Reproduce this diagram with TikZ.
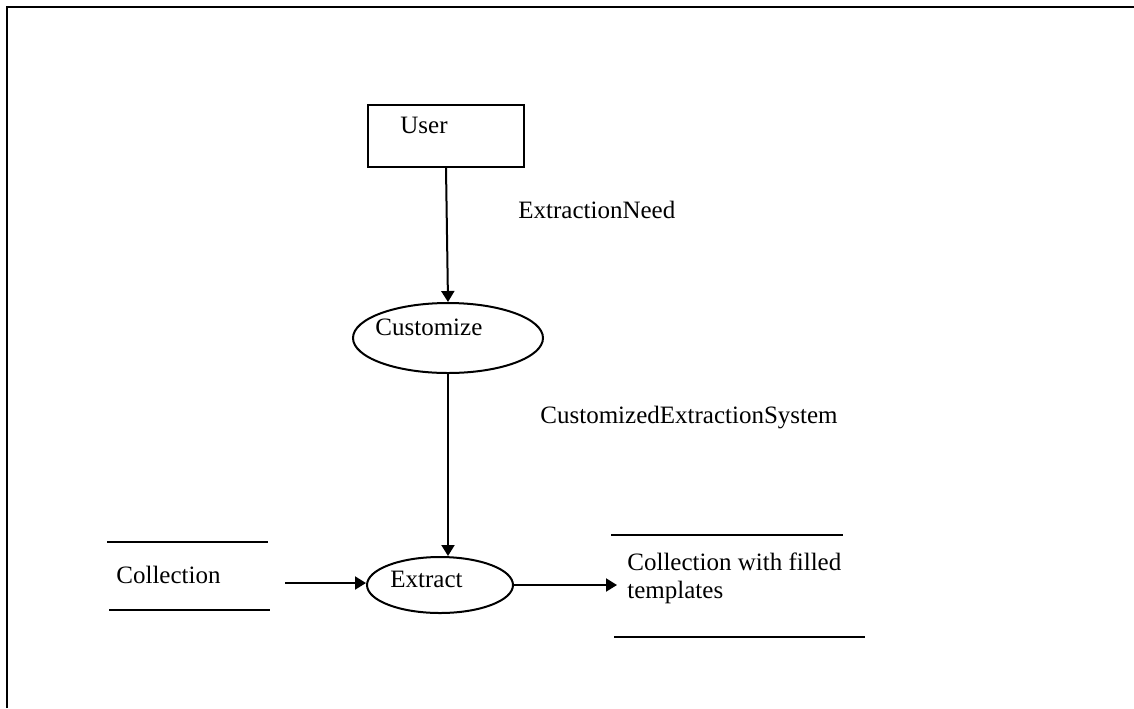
\documentclass[tikz,border=0pt]{standalone}
\usepackage{fontspec}
\setmainfont{Liberation Serif}
\usepackage{tikz}
\usetikzlibrary{arrows.meta,positioning,calc,shapes.geometric}
\tikzset{
  proc/.style={draw,ellipse,line width=1pt,inner sep=0pt},
  ent/.style={draw,rectangle,line width=1pt,inner sep=0pt,minimum width=78pt,minimum height=31pt},
  flow/.style={line width=1pt,-{Triangle[length=5.5pt,width=6.5pt]}},
  store/.style={line width=1pt},
  lbl/.style={inner sep=0pt,anchor=base west},
}

\begin{document}
\begin{tikzpicture}[font=\fontsize{12.5}{14}\selectfont,x=0.5pt,y=-0.5pt]
\useasboundingbox (0,0) rectangle (1134,708);
% frame, open at the right and at the bottom
\draw[line width=1.3pt] (7,708) -- (7,7) -- (1134,7);
% user and the two processes
\node[ent] (user) at (446,136) {};
\node[lbl] (usertxt) at (400,133) {User};
\node[proc,minimum width=95pt,minimum height=35pt] (customize) at (448,338) {};
\node[lbl] (customizetxt) at (375,335) {Customize};
\node[proc,minimum width=73pt,minimum height=28pt] (extract) at (440,585) {};
\node[lbl] (extracttxt) at (390,587) {Extract};
% data flows
\draw[flow] (user.south) -- (customize.north);
\node[lbl] (need) at (518,218) {ExtractionNeed};
\draw[flow] (customize.south) -- (extract.north -| customize.south);
\node[lbl] (custsys) at (540,423) {CustomizedExtractionSystem};
% data stores
\draw[store] (107,542) -- (268,542) (109,610) -- (270,610);
\node[lbl] (coll) at (116,583) {Collection};
\draw[store] (611,535) -- (843,535) (614,637) -- (865,637);
\node[anchor=west,inner sep=5pt,align=left] (filled) at (617,578) {Collection with filled\\templates};
\coordinate (collout) at (285,583);
\draw[flow] (collout) -- (collout -| extract.west);
\draw[flow] (extract.east) -- (extract.east -| filled.west);
\end{tikzpicture}
\end{document}
